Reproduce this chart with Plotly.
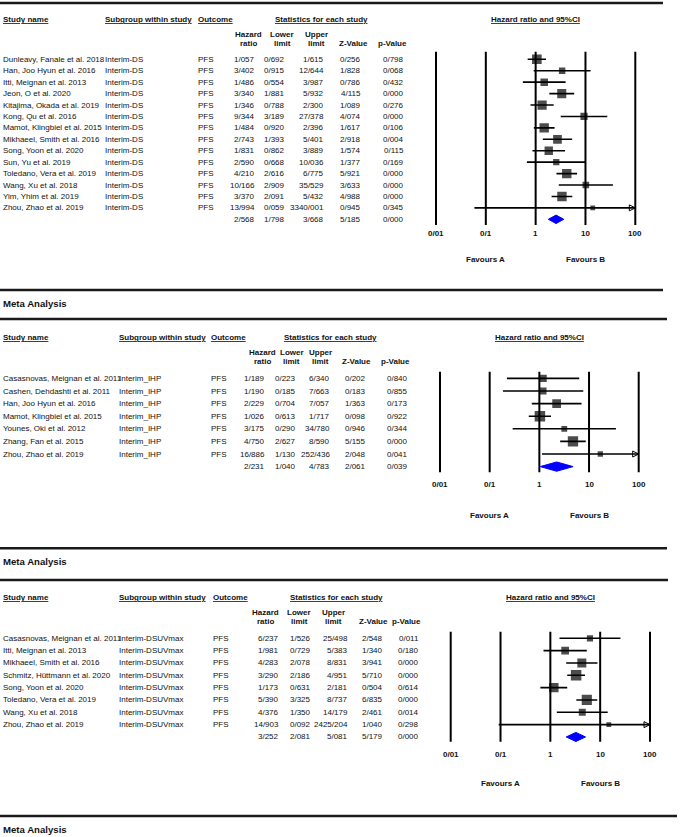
import numpy as np
import plotly.graph_objects as go

# ---- data: Interim-DS ----
ds_names = ["Dunleavy, Fanale et al. 2018", "Han, Joo Hyun et al. 2016", "Itti, Meignan et al. 2013",
            "Jeon, O et al. 2020", "Kitajima, Okada et al. 2019", "Kong, Qu et al. 2016",
            "Mamot, Klingbiel et al. 2015", "Mikhaeel, Smith et al. 2016", "Song, Yoon et al. 2020",
            "Sun, Yu et al. 2019", "Toledano, Vera et al. 2019", "Wang, Xu et al. 2018",
            "Yim, Yhim et al. 2019", "Zhou, Zhao et al. 2019"]
ds_hr = [1.057, 3.402, 1.486, 3.340, 1.346, 9.344, 1.484, 2.743, 1.831, 2.590, 4.210, 10.166, 3.370, 13.994]
ds_lower = [0.692, 0.915, 0.554, 1.881, 0.788, 3.189, 0.920, 1.393, 0.862, 0.668, 2.616, 2.909, 2.091, 0.059]
ds_upper = [1.615, 12.644, 3.987, 5.932, 2.300, 27.378, 2.396, 5.401, 3.889, 10.036, 6.775, 35.529, 5.432, 3340.001]
ds_z = [0.256, 1.828, 0.786, 4.115, 1.089, 4.074, 1.617, 2.918, 1.574, 1.377, 5.921, 3.633, 4.988, 0.945]
ds_p = [0.798, 0.068, 0.432, 0.000, 0.276, 0.000, 0.106, 0.004, 0.115, 0.169, 0.000, 0.000, 0.000, 0.345]
ds_summary = [2.568, 1.798, 3.668, 5.185, 0.000]  # hr, lower, upper, z, p

# ---- data: Interim_IHP ----
ihp_names = ["Casasnovas, Meignan et al. 2011", "Cashen, Dehdashti et al. 2011", "Han, Joo Hyun et al. 2016",
             "Mamot, Klingbiel et al. 2015", "Younes, Oki et al. 2012", "Zhang, Fan et al. 2015",
             "Zhou, Zhao et al. 2019"]
ihp_hr = [1.189, 1.190, 2.229, 1.026, 3.175, 4.750, 16.886]
ihp_lower = [0.223, 0.185, 0.704, 0.613, 0.290, 2.627, 1.130]
ihp_upper = [6.340, 7.663, 7.057, 1.717, 34.780, 8.590, 252.436]
ihp_z = [0.202, 0.183, 1.363, 0.098, 0.946, 5.155, 2.048]
ihp_p = [0.840, 0.855, 0.173, 0.922, 0.344, 0.000, 0.041]
ihp_summary = [2.231, 1.040, 4.783, 2.061, 0.039]

# ---- data: Interim-DSUVmax ----
suv_names = ["Casasnovas, Meignan et al. 2011", "Itti, Meignan et al. 2013", "Mikhaeel, Smith et al. 2016",
             "Schmitz, Hüttmann et al. 2020", "Song, Yoon et al. 2020", "Toledano, Vera et al. 2019",
             "Wang, Xu et al. 2018", "Zhou, Zhao et al. 2019"]
suv_hr = [6.237, 1.981, 4.283, 3.290, 1.173, 5.390, 4.376, 14.903]
suv_lower = [1.526, 0.729, 2.078, 2.186, 0.631, 3.325, 1.350, 0.092]
suv_upper = [25.498, 5.383, 8.831, 4.951, 2.181, 8.737, 14.179, 2425.204]
suv_z = [2.548, 1.340, 3.941, 5.710, 0.504, 6.835, 2.461, 1.040]
suv_p = [0.011, 0.180, 0.000, 0.000, 0.614, 0.000, 0.014, 0.298]
suv_summary = [3.252, 2.081, 5.081, 5.179, 0.000]

tick_vals = [0.01, 0.1, 1, 10, 100]
tick_labels = ["0/01", "0/1", "1", "10", "100"]

W, H = 680, 837
FONT = "Liberation Sans, Arial, sans-serif"


def fmt(v):
    return f"{v:.3f}".replace(".", "/")


def px(x):
    return x / W


def py(y):
    return 1 - y / H


def box_sizes(hr, lo, up, biggest):
    # random-effects (DerSimonian-Laird) weights -> box side
    y = np.log(hr)
    se = (np.log(up) - np.log(lo)) / (2 * 1.96)
    w = 1 / se ** 2
    ybar = np.sum(w * y) / np.sum(w)
    q = np.sum(w * (y - ybar) ** 2)
    c = np.sum(w) - np.sum(w ** 2) / np.sum(w)
    tau2 = max(0.0, (q - (len(y) - 1)) / c)
    wr = 1 / (se ** 2 + tau2)
    return np.maximum(4.8, biggest * np.sqrt(wr / wr.max()))


panels = [
    dict(names=ds_names, sub="Interim-DS", hr=ds_hr, lo=ds_lower, up=ds_upper, z=ds_z, p=ds_p, summ=ds_summary,
         row0=59.3, dy=11.43, head=19.5,
         cols=dict(sub=103, out=196, hr=257, lo=287, up=326, z=363, p=406),
         heads=dict(hr=249, lo=282, up=316.5, z=353.3, p=393, stats=321),
         forest=(436, 635.3), vtop=51.7, vbot=225, tick=234, fav=259, big=9.6),
    dict(names=ihp_names, sub="Interim_IHP", hr=ihp_hr, lo=ihp_lower, up=ihp_upper, z=ihp_z, p=ihp_p, summ=ihp_summary,
         row0=378.4, dy=12.6, head=337.5,
         cols=dict(sub=116.7, out=209.3, hr=266.7, lo=298.3, up=331.7, z=367.7, p=410),
         heads=dict(hr=262.3, lo=291.5, up=320.7, z=356.7, p=395, stats=330),
         forest=(440, 638.7), vtop=371.7, vbot=472.3, tick=484.3, fav=515, big=10.5),
    dict(names=suv_names, sub="Interim-DSUVmax", hr=suv_hr, lo=suv_lower, up=suv_upper, z=suv_z, p=suv_p, summ=suv_summary,
         row0=638.3, dy=12.33, head=597.5,
         cols=dict(sub=117.3, out=210.7, hr=281, lo=313.3, up=350, z=385, p=420.7),
         heads=dict(hr=265, lo=299, up=333, z=373.7, p=406.5, stats=336),
         forest=(450.7, 650), vtop=631.7, vbot=741.7, tick=754.3, fav=783.3, big=10.5),
]

fig = go.Figure()
annotations = []
shapes = []


def txt(text, x, y, xref="paper", yref="paper", xanchor="left", size=8):
    annotations.append(dict(text=text, x=x, y=y, xref=xref, yref=yref, xanchor=xanchor, yanchor="middle",
                            showarrow=False, font=dict(family=FONT, size=size, color="#111")))


PAD = 0.06  # extra decades on each side so the 0.01 / 100 lines are not clipped

for k, pn in enumerate(panels, start=1):
    xa = "x" if k == 1 else f"x{k}"
    ya = "y" if k == 1 else f"y{k}"
    n = len(pn["names"])
    rows = np.arange(n)
    hr, lo, up = np.array(pn["hr"]), np.array(pn["lo"]), np.array(pn["up"])

    # reference lines at each decade
    top = (pn["vtop"] - pn["row0"]) / pn["dy"]
    bot = (pn["vbot"] - pn["row0"]) / pn["dy"]
    vx, vy = [], []
    for v in tick_vals:
        vx += [v, v, None]
        vy += [top, bot, None]
    fig.add_trace(go.Scatter(x=vx, y=vy, mode="lines", line=dict(color="black", width=2),
                             xaxis=xa, yaxis=ya, hoverinfo="skip"))

    # confidence intervals
    lo_c = np.clip(lo, 0.01, 100)
    up_c = np.clip(up, 0.01, 100)
    cx, cy = [], []
    for i in rows:
        cx += [lo_c[i], up_c[i], None]
        cy += [i, i, None]
    fig.add_trace(go.Scatter(x=cx, y=cy, mode="lines", line=dict(color="black", width=1.6),
                             xaxis=xa, yaxis=ya, hoverinfo="skip"))

    clipped = up > 100
    if clipped.any():
        fig.add_trace(go.Scatter(x=up_c[clipped], y=rows[clipped], mode="markers",
                                 marker=dict(symbol="arrow-right-open", size=6, color="black",
                                             line=dict(color="black", width=1)),
                                 xaxis=xa, yaxis=ya, hoverinfo="skip"))

    # study boxes
    fig.add_trace(go.Scatter(x=hr, y=rows, mode="markers",
                             marker=dict(symbol="square", color="black",
                                         size=box_sizes(hr, lo, up, pn["big"]), line=dict(width=0)),
                             xaxis=xa, yaxis=ya, hoverinfo="skip"))

    # pooled diamond
    s_hr, s_lo, s_up = pn["summ"][:3]
    h = 0.37
    fig.add_trace(go.Scatter(x=[s_lo, s_hr, s_up, s_hr, s_lo], y=[n, n - h, n, n + h, n],
                             mode="lines", fill="toself", fillcolor="#0000ff",
                             line=dict(color="#0000ff", width=1), xaxis=xa, yaxis=ya, hoverinfo="skip"))

    f0, f1 = pn["forest"]
    dec = (f1 - f0) / 4
    fig.update_layout({
        ("xaxis" if k == 1 else f"xaxis{k}"): dict(type="log", range=[-2 - PAD, 2 + PAD],
                                                  domain=[px(f0 - PAD * dec), px(f1 + PAD * dec)],
                                                  visible=False, anchor=ya, fixedrange=True),
        ("yaxis" if k == 1 else f"yaxis{k}"): dict(domain=[0, 1], visible=False, anchor=xa, fixedrange=True,
                                                  range=[(H - pn["row0"]) / pn["dy"], -pn["row0"] / pn["dy"]]),
    })

    # headers
    hd = pn["head"]
    c, hc = pn["cols"], pn["heads"]
    txt("<b><u>Study name</u></b>", px(1), py(hd))
    txt("<b><u>Subgroup within study</u></b>", px(c["sub"]), py(hd))
    txt("<b><u>Outcome</u></b>", px(c["out"]), py(hd))
    txt("<b><u>Statistics for each study</u></b>", px(hc["stats"]), py(hd), xanchor="center")
    txt("<b><u>Hazard ratio and 95%CI</u></b>", 0, py(hd), xref=xa, xanchor="center")
    for key, l1, l2 in [("hr", "Hazard", "ratio"), ("lo", "Lower", "limit"), ("up", "Upper", "limit")]:
        txt(f"<b>{l1}</b>", px(hc[key]), py(hd + 14.8), xanchor="center")
        txt(f"<b>{l2}</b>", px(hc[key]), py(hd + 24), xanchor="center")
    txt("<b>Z-Value</b>", px(hc["z"]), py(hd + 24), xanchor="center")
    txt("<b>p-Value</b>", px(hc["p"]), py(hd + 24), xanchor="center")

    # table rows
    for i in rows:
        txt(pn["names"][i], px(1), i, yref=ya)
        txt(pn["sub"], px(c["sub"]), i, yref=ya)
        txt("PFS", px(c["out"]), i, yref=ya)
        for key, vals in [("hr", hr), ("lo", lo), ("up", up), ("z", pn["z"]), ("p", pn["p"])]:
            txt(fmt(vals[i]), px(c[key]), i, yref=ya, xanchor="right")
    for key, v in zip(["hr", "lo", "up", "z", "p"], pn["summ"]):
        txt(fmt(v), px(c[key]), n, yref=ya, xanchor="right")

    # axis labels
    for v, lab in zip(tick_vals, tick_labels):
        txt(f"<b>{lab}</b>", np.log10(v), py(pn["tick"]), xref=xa, xanchor="center")
    txt("<b>Favours A</b>", -1, py(pn["fav"]), xref=xa, xanchor="center")
    txt("<b>Favours B</b>", 1, py(pn["fav"]), xref=xa, xanchor="center")

# separators and section titles
for y, x1 in [(3, 663), (290, 663), (319, 667), (548.3, 667), (580, 668), (816, 677)]:
    shapes.append(dict(type="line", xref="paper", yref="paper", x0=0, x1=px(x1), y0=py(y), y1=py(y),
                       line=dict(color="#1a1a1a", width=2.5)))
for y in [303, 561.7, 829.3]:
    txt("<b>Meta Analysis</b>", px(1), py(y), size=9.6)

fig.update_layout(
    width=W, height=H,
    margin=dict(l=0, r=0, t=0, b=0),
    paper_bgcolor="white",
    plot_bgcolor="rgba(0,0,0,0)",
    showlegend=False,
    hovermode=False,
    annotations=annotations,
    shapes=shapes,
)

# page body has a default 8px margin; drop it so the figure sits at the window corner
fig.write_html("out.html", config={"displayModeBar": False},
               post_script="document.body.style.margin='0';")
